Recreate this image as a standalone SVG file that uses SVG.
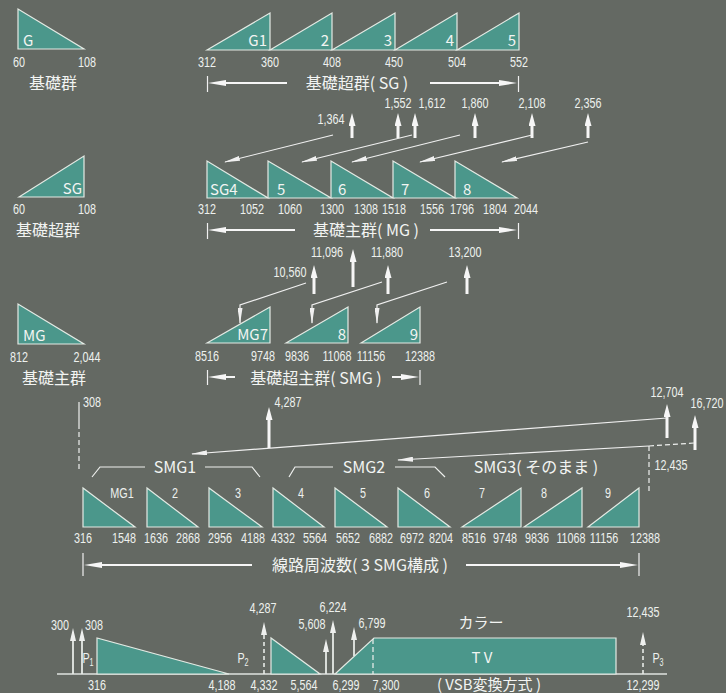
<svg xmlns="http://www.w3.org/2000/svg" width="726" height="693" viewBox="0 0 726 693">
<defs>
<style>
.tri{fill:#4b978b;stroke:#e4eae4;stroke-width:1.2;stroke-linejoin:miter}
.n{font-family:"Liberation Sans",Arial,sans-serif;font-size:15px;fill:#eef1ee;text-anchor:middle;transform-box:fill-box;transform-origin:center;transform:scaleX(.72)}
.j{font-family:"Noto Sans CJK JP","Noto Sans",sans-serif;font-size:16px;fill:#f2f4f2;text-anchor:middle}
.k{font-family:"Noto Sans CJK JP","Noto Sans",sans-serif;font-size:15px;fill:#f2f4f2}
.e{text-anchor:end}
.ar{stroke:#f6f6f6;stroke-width:3;fill:none;marker-end:url(#ah)}
.dm{stroke:#f6f6f6;stroke-width:2;fill:none;marker-end:url(#dh)}
.tk{stroke:#f0f0f0;stroke-width:1.2;fill:none}
.th{stroke:#f0f0f0;stroke-width:1.2;fill:none;marker-end:url(#th)}
.ln{stroke:#eef0ee;stroke-width:1.2;fill:none}
.ds{stroke:#eef0ee;stroke-width:1.2;fill:none;stroke-dasharray:5 3}
.ba{stroke:#e6eae6;stroke-width:1.8;fill:none;marker-end:url(#sh)}
.bd{stroke:#e6eae6;stroke-width:1.6;fill:none;stroke-dasharray:4 3;marker-end:url(#sh)}
</style>
<marker id="ah" viewBox="0 0 13 7" refX="4" refY="3.5" markerWidth="13" markerHeight="7" markerUnits="userSpaceOnUse" orient="auto"><path d="M0,0L13,3.5L0,7z" fill="#f6f6f6"/></marker>
<marker id="dh" viewBox="0 0 18 6" refX="6" refY="3" markerWidth="18" markerHeight="6" markerUnits="userSpaceOnUse" orient="auto"><path d="M0,0L18,3L0,6z" fill="#f6f6f6"/></marker>
<marker id="th" viewBox="0 0 16 5" refX="15" refY="2.5" markerWidth="16" markerHeight="5" markerUnits="userSpaceOnUse" orient="auto"><path d="M0,0L16,2.5L0,5z" fill="#f0f0f0"/></marker>
<marker id="sh" viewBox="0 0 13 6" refX="5" refY="3" markerWidth="13" markerHeight="6" markerUnits="userSpaceOnUse" orient="auto"><path d="M0,0L13,3L0,6z" fill="#eef0ee"/></marker>
</defs>
<rect width="726" height="693" fill="#646963"/>

<!-- Section 1: basic group / super group -->
<g id="basic-group">
<polygon class="tri" points="18,9 18,49 84,49"/>
<text class="k" x="23" y="46">G</text>
<text class="n" x="19" y="67">60</text><text class="n" x="87" y="67">108</text>
<text class="j" x="53" y="89">基礎群</text>
</g>
<g id="sg-G1"><polygon class="tri" points="207,50 270,13 270,50"/><text class="k e" x="267" y="46">G1</text></g>
<g id="sg-2"><polygon class="tri" points="270,50 332,13 332,50"/><text class="k e" x="329" y="46">2</text></g>
<g id="sg-3"><polygon class="tri" points="332,50 395,13 395,50"/><text class="k e" x="392" y="46">3</text></g>
<g id="sg-4"><polygon class="tri" points="395,50 457,13 457,50"/><text class="k e" x="454" y="46">4</text></g>
<g id="sg-5"><polygon class="tri" points="457,50 519,13 519,50"/><text class="k e" x="516" y="46">5</text></g>
<g id="sg-numbers">
<text class="n" x="207" y="67">312</text><text class="n" x="270" y="67">360</text><text class="n" x="332" y="67">408</text>
<text class="n" x="394" y="67">450</text><text class="n" x="457" y="67">504</text><text class="n" x="519" y="67">552</text>
</g>
<g id="sg-span">
<line class="tk" x1="207.5" y1="76" x2="207.5" y2="92"/><line class="tk" x1="518.5" y1="76" x2="518.5" y2="92"/>
<line class="dm" x1="287" y1="83" x2="220" y2="83"/><line class="dm" x1="430" y1="83" x2="505" y2="83"/>
<text class="j" x="357" y="89">基礎超群( SG )</text>
</g>
<g id="sg-carriers">
<text class="n" x="331" y="124">1,364</text><text class="n" x="398" y="108">1,552</text><text class="n" x="432" y="108">1,612</text>
<text class="n" x="475" y="108">1,860</text><text class="n" x="532" y="108">2,108</text><text class="n" x="588" y="108">2,356</text>
</g>

<!-- Section 2: master group -->
<g id="basic-supergroup">
<polygon class="tri" points="19,197 84,156 84,197"/>
<text class="k e" x="82" y="194">SG</text>
<text class="n" x="19" y="214">60</text><text class="n" x="87" y="214">108</text>
<text class="j" x="48" y="236">基礎超群</text>
</g>
<g id="mg-SG4"><polygon class="tri" points="207,161 207,198 268,198"/><text class="k" x="210" y="195">SG4</text></g>
<g id="mg-5"><polygon class="tri" points="268,161 268,198 331,198"/><text class="k" x="277" y="195">5</text></g>
<g id="mg-6"><polygon class="tri" points="331,161 331,198 393,198"/><text class="k" x="338" y="195">6</text></g>
<g id="mg-7"><polygon class="tri" points="393,161 393,198 455,198"/><text class="k" x="401" y="195">7</text></g>
<g id="mg-8"><polygon class="tri" points="455,161 455,198 517,198"/><text class="k" x="463" y="195">8</text></g>
<g id="mg-numbers">
<text class="n" x="207" y="214">312</text><text class="n" x="252" y="214">1052</text><text class="n" x="290" y="214">1060</text>
<text class="n" x="332" y="214">1300</text><text class="n" x="366" y="214">1308</text><text class="n" x="394" y="214">1518</text>
<text class="n" x="432" y="214">1556</text><text class="n" x="462" y="214">1796</text><text class="n" x="495" y="214">1804</text>
<text class="n" x="526" y="214">2044</text>
</g>
<g id="mg-span">
<line class="tk" x1="207.5" y1="223" x2="207.5" y2="239"/><line class="tk" x1="518.5" y1="223" x2="518.5" y2="239"/>
<line class="dm" x1="295" y1="230" x2="220" y2="230"/><line class="dm" x1="430" y1="230" x2="505" y2="230"/>
<text class="j" x="366" y="236">基礎主群( MG )</text>
</g>
<g id="mg-carriers">
<text class="n" x="290" y="277">10,560</text><text class="n" x="327" y="257">11,096</text>
<text class="n" x="387" y="257">11,880</text><text class="n" x="465" y="257">13,200</text>
</g>

<!-- Section 3: super master group -->
<g id="basic-mastergroup">
<polygon class="tri" points="18,304 18,344 84,344"/>
<text class="k" x="23" y="341">MG</text>
<text class="n" x="19" y="362">812</text><text class="n" x="87" y="362">2,044</text>
<text class="j" x="54" y="384">基礎主群</text>
</g>
<g id="smg-MG7"><polygon class="tri" points="207,343 270,307 270,343"/><text class="k e" x="268" y="340">MG7</text></g>
<g id="smg-8"><polygon class="tri" points="286,343 348,307 348,343"/><text class="k e" x="346" y="340">8</text></g>
<g id="smg-9"><polygon class="tri" points="361,343 420,307 420,343"/><text class="k e" x="418" y="340">9</text></g>
<g id="smg-numbers">
<text class="n" x="207" y="361">8516</text><text class="n" x="263" y="361">9748</text><text class="n" x="297" y="361">9836</text>
<text class="n" x="337" y="361">11068</text><text class="n" x="371" y="361">11156</text><text class="n" x="420" y="361">12388</text>
</g>
<g id="smg-span">
<line class="tk" x1="207.5" y1="370" x2="207.5" y2="385"/><line class="tk" x1="420" y1="370" x2="420" y2="385"/>
<line class="dm" x1="235" y1="377" x2="220" y2="377"/><line class="dm" x1="392" y1="377" x2="407" y2="377"/>
<text class="j" x="316" y="384">基礎超主群( SMG )</text>
</g>

<!-- Section 4: line frequency -->
<g id="line-labels">
<text class="n" x="92" y="407">308</text>
<text class="n" x="288" y="407">4,287</text>
<text class="n" x="667" y="397">12,704</text>
<text class="n" x="707" y="408">16,720</text>
<text class="n" x="671" y="470">12,435</text>
</g>
<g id="smg-braces">
<path class="ln" d="M92,477L100,467L145,467M205,467L252,467L260,477"/>
<text class="j" x="175" y="473">SMG1</text>
<path class="ln" d="M289,477L295,467L333,467M395,467L435,467L445,477"/>
<text class="j" x="364" y="473">SMG2</text>
<text class="j" x="536" y="473">SMG3( そのまま )</text>
</g>
<g id="lf-MG1"><polygon class="tri" points="83,488 83,527 135,527"/><text class="n" x="122" y="498">MG1</text></g>
<g id="lf-2"><polygon class="tri" points="147,488 147,527 198,527"/><text class="n" x="175" y="498">2</text></g>
<g id="lf-3"><polygon class="tri" points="209,488 209,527 262,527"/><text class="n" x="238" y="498">3</text></g>
<g id="lf-4"><polygon class="tri" points="273,488 273,527 324,527"/><text class="n" x="301" y="498">4</text></g>
<g id="lf-5"><polygon class="tri" points="335,488 335,527 387,527"/><text class="n" x="363" y="498">5</text></g>
<g id="lf-6"><polygon class="tri" points="398,488 398,527 450,527"/><text class="n" x="427" y="498">6</text></g>
<g id="lf-7"><polygon class="tri" points="462,527 521,488 521,527"/><text class="n" x="482" y="498">7</text></g>
<g id="lf-8"><polygon class="tri" points="524,527 582,488 582,527"/><text class="n" x="544" y="498">8</text></g>
<g id="lf-9"><polygon class="tri" points="588,527 639,488 639,527"/><text class="n" x="608" y="498">9</text></g>
<g id="lf-numbers">
<text class="n" x="83" y="543">316</text><text class="n" x="124" y="543">1548</text><text class="n" x="156" y="543">1636</text>
<text class="n" x="188" y="543">2868</text><text class="n" x="220" y="543">2956</text><text class="n" x="253" y="543">4188</text>
<text class="n" x="283" y="543">4332</text><text class="n" x="315" y="543">5564</text><text class="n" x="348" y="543">5652</text>
<text class="n" x="381" y="543">6882</text><text class="n" x="412" y="543">6972</text><text class="n" x="441" y="543">8204</text>
<text class="n" x="474" y="543">8516</text><text class="n" x="505" y="543">9748</text><text class="n" x="537" y="543">9836</text>
<text class="n" x="571" y="543">11068</text><text class="n" x="604" y="543">11156</text><text class="n" x="645" y="543">12388</text>
</g>
<g id="lf-span">
<line class="tk" x1="83" y1="553" x2="83" y2="576"/><line class="tk" x1="639" y1="553" x2="639" y2="576"/>
<line class="dm" x1="252" y1="565" x2="96" y2="565"/><line class="dm" x1="466" y1="565" x2="626" y2="565"/>
<text class="j" x="360" y="571">線路周波数( 3 SMG構成 )</text>
</g>

<!-- Section 5: spectrum -->
<g id="spectrum-axis"><line x1="57" y1="674" x2="667" y2="674" stroke="#dfe3df" stroke-width="1.5"/></g>
<g id="spec-mg1"><polygon class="tri" points="97,638 97,674 229,674"/></g>
<g id="spec-mg2"><polygon class="tri" points="271,638 271,674 320,674"/></g>
<g id="spec-tv"><polygon class="tri" points="335,674 374,638 616,638 616,674"/>
<text class="k" x="482" y="663" text-anchor="middle">T V</text>
<text class="k" x="481" y="628" text-anchor="middle">カラー</text>
</g>
<g id="spec-labels">
<text class="n" x="60" y="630">300</text><text class="n" x="94" y="630">308</text>
<text class="n" x="88" y="663">P<tspan font-size="10" dy="3">1</tspan></text>
<text class="n" x="243" y="663">P<tspan font-size="10" dy="3">2</tspan></text>
<text class="n" x="658" y="663">P<tspan font-size="10" dy="3">3</tspan></text>
<text class="n" x="263" y="613">4,287</text><text class="n" x="312" y="629">5,608</text>
<text class="n" x="333" y="612">6,224</text><text class="n" x="372" y="628">6,799</text>
<text class="n" x="643" y="617">12,435</text>
<text class="n" x="97" y="690">316</text><text class="n" x="222" y="690">4,188</text><text class="n" x="264" y="690">4,332</text>
<text class="n" x="304" y="690">5,564</text><text class="n" x="346" y="690">6,299</text><text class="n" x="386" y="690">7,300</text>
<text class="n" x="643" y="690">12,299</text>
<text class="k" x="489" y="690" text-anchor="middle">( VSB変換方式 )</text>
</g>

<g id="connectors">
<!-- SG to MG -->
<line class="ar" x1="352" y1="138" x2="352" y2="122"/>
<line class="ar" x1="398" y1="138" x2="398" y2="122"/>
<line class="ar" x1="415" y1="138" x2="415" y2="122"/>
<line class="ar" x1="475" y1="138" x2="475" y2="122"/>
<line class="ar" x1="532" y1="138" x2="532" y2="122"/>
<line class="ar" x1="588" y1="138" x2="588" y2="122"/>
<line class="th" x1="333" y1="135" x2="225" y2="162"/>
<line class="th" x1="412" y1="135" x2="302" y2="162"/>
<line class="th" x1="460" y1="135" x2="352" y2="162"/>
<line class="th" x1="532" y1="135" x2="420" y2="162"/>
<line class="th" x1="588" y1="142" x2="502" y2="162"/>
<!-- MG to SMG -->
<line class="ar" x1="314" y1="294" x2="314" y2="274"/>
<line class="ar" x1="353" y1="287" x2="353" y2="258"/>
<line class="ar" x1="388" y1="294" x2="388" y2="274"/>
<line class="ar" x1="467" y1="294" x2="467" y2="274"/>
<path class="th" d="M306,283L240,305L240,323"/>
<path class="th" d="M382,282L312,305L312,323"/>
<path class="th" d="M447,282L377,305L377,323"/>
<!-- SMG to line -->
<line class="ln" x1="79" y1="402" x2="79" y2="424"/>
<line class="ds" x1="79" y1="424" x2="79" y2="470"/>
<line class="th" x1="667" y1="418" x2="192" y2="454"/>
<line class="ar" x1="269" y1="448" x2="269" y2="416"/>
<line class="ar" x1="667" y1="438" x2="667" y2="413"/>
<line class="ar" x1="695" y1="450" x2="695" y2="424"/>
<line class="ds" x1="649" y1="446" x2="694" y2="443"/>
<line class="ds" x1="649" y1="446" x2="649" y2="493"/>
<line class="th" x1="649" y1="446" x2="398" y2="460"/>
<!-- spectrum pilots -->
<line class="ba" x1="73" y1="674" x2="73" y2="636"/>
<line class="ba" x1="82" y1="674" x2="82" y2="636"/>
<line class="bd" x1="264" y1="674" x2="264" y2="630"/>
<line class="ba" x1="326" y1="674" x2="326" y2="647"/>
<line class="ba" x1="333" y1="674" x2="333" y2="628"/>
<line class="ba" x1="354" y1="656" x2="354" y2="635"/>
<line class="ds" x1="373" y1="639" x2="373" y2="674"/>
<line class="bd" x1="643" y1="674" x2="643" y2="640"/>
</g>
</svg>
